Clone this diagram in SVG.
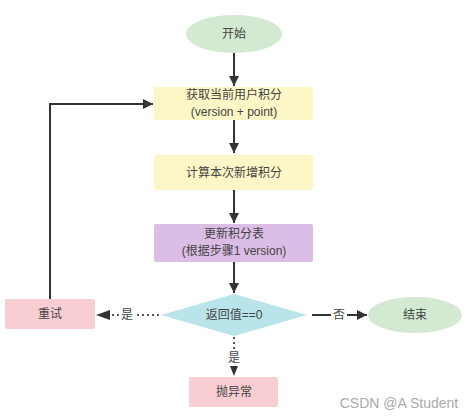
<svg xmlns="http://www.w3.org/2000/svg" width="473" height="418" viewBox="0 0 473 418">
<defs>
<marker id="ah" viewBox="0 0 10 10" refX="10" refY="5" markerWidth="10" markerHeight="10" markerUnits="userSpaceOnUse" orient="auto">
<path d="M0,0 L10,5 L0,10 z" fill="#333"/>
</marker>
<style>
text{font-family:"Liberation Sans","Noto Sans CJK SC",sans-serif;font-size:12px;fill:#444;text-anchor:middle;dominant-baseline:central}
.ln{stroke:#333;stroke-width:2;fill:none}
.dot{stroke:#555;stroke-width:2;fill:none;stroke-dasharray:2 3}
.wm{font-family:"Liberation Sans",sans-serif;font-size:14px;fill:#aaa}
</style>
</defs>
<rect width="473" height="418" fill="#fff"/>
<g id="connectors">
<line class="ln" x1="234" y1="53" x2="234" y2="86" marker-end="url(#ah)"/>
<line class="ln" x1="234" y1="120" x2="234" y2="153" marker-end="url(#ah)"/>
<line class="ln" x1="234" y1="190" x2="234" y2="223" marker-end="url(#ah)"/>
<line class="ln" x1="234" y1="262" x2="234" y2="293" marker-end="url(#ah)"/>
<polyline class="ln" points="50,299 50,104 153,104" marker-end="url(#ah)"/>
<line class="dot" x1="159" y1="315" x2="135" y2="315"/>
<line class="dot" x1="119" y1="315" x2="106" y2="315"/>
<path d="M96,315 L110,310 L110,320 z" fill="#333"/>
<text x="127" y="315">是</text>
<line class="dot" x1="234" y1="337" x2="234" y2="349"/>
<text x="234" y="358">是</text>
<path d="M234,376 L230,366 L238,366 z" fill="#333"/>
<line class="ln" x1="312" y1="315" x2="331" y2="315"/>
<line class="ln" x1="347" y1="315" x2="367" y2="315" marker-end="url(#ah)"/>
<text x="339" y="315">否</text>
</g>
<g id="start">
<ellipse cx="234" cy="34" rx="48" ry="19" fill="#d3e9d1"/>
<text x="234" y="34">开始</text>
</g>
<g id="getPoints">
<rect x="154" y="87" width="159" height="33" rx="2" fill="#fdf7c7"/>
<text x="234" y="95">获取当前用户积分</text>
<text x="234" y="112">(version + point)</text>
</g>
<g id="calc">
<rect x="154" y="155" width="159" height="35" rx="2" fill="#fdf7c7"/>
<text x="234" y="173">计算本次新增积分</text>
</g>
<g id="update">
<rect x="154" y="224" width="159" height="38" rx="2" fill="#dcbde6"/>
<text x="234" y="234">更新积分表</text>
<text x="234" y="251">(根据步骤1 version)</text>
</g>
<g id="decision">
<polygon points="161,315 234,294 307,315 234,336" fill="#b8e4ea"/>
<text x="234" y="315">返回值==0</text>
</g>
<g id="retry">
<rect x="5" y="299" width="90" height="30" rx="2" fill="#f8ced2"/>
<text x="50" y="314">重试</text>
</g>
<g id="end">
<ellipse cx="415" cy="315" rx="47" ry="18" fill="#d3e9d1"/>
<text x="415" y="315">结束</text>
</g>
<g id="throw">
<rect x="189" y="377" width="89" height="30" rx="2" fill="#f8ced2"/>
<text x="234" y="392">抛异常</text>
</g>
<text class="wm" x="399" y="403">CSDN @A Student</text>
</svg>
